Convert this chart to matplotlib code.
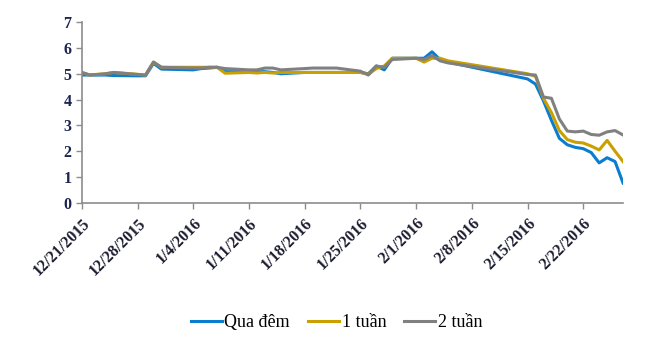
import numpy as np
import pandas as pd
import matplotlib
matplotlib.use("Agg")
import matplotlib.pyplot as plt
import matplotlib.dates as mdates

# dates (gap over Tet holiday)
dates = pd.to_datetime([
    "2015-12-21", "2015-12-22", "2015-12-23", "2015-12-24", "2015-12-25",
    "2015-12-28", "2015-12-29", "2015-12-30", "2015-12-31",
    "2016-01-04", "2016-01-05", "2016-01-06", "2016-01-07", "2016-01-08",
    "2016-01-11", "2016-01-12", "2016-01-13", "2016-01-14", "2016-01-15",
    "2016-01-18", "2016-01-19", "2016-01-20", "2016-01-21", "2016-01-22",
    "2016-01-25", "2016-01-26", "2016-01-27", "2016-01-28", "2016-01-29",
    "2016-02-01", "2016-02-02", "2016-02-03", "2016-02-04", "2016-02-05",
    "2016-02-15", "2016-02-16", "2016-02-17", "2016-02-18", "2016-02-19",
    "2016-02-20", "2016-02-21", "2016-02-22", "2016-02-23", "2016-02-24",
    "2016-02-25", "2016-02-26", "2016-02-27",
])

qua_dem = [4.95, 4.95, 4.95, 4.95, 4.93,
           4.92, 4.92, 5.4, 5.18,
           5.15, 5.2, 5.22, 5.25, 5.08,
           5.08, 5.08, 5.08, 5.05, 5.0,
           5.05, 5.05, 5.05, 5.05, 5.05,
           5.05, 5.0, 5.3, 5.15, 5.6,
           5.6, 5.6, 5.85, 5.55, 5.45,
           4.8, 4.6, 3.95, 3.2, 2.5,
           2.25, 2.15, 2.1, 1.95, 1.55,
           1.75, 1.6, 0.77]

mot_tuan = [5.05, 4.95, 4.98, 5.0, 5.05,
            4.98, 4.95, 5.45, 5.25,
            5.25, 5.25, 5.25, 5.25, 5.02,
            5.05, 5.03, 5.05, 5.03, 5.05,
            5.05, 5.05, 5.05, 5.05, 5.05,
            5.05, 4.98, 5.2, 5.3, 5.6,
            5.6, 5.45, 5.6, 5.6, 5.5,
            5.0, 4.9, 4.05, 3.5, 2.8,
            2.45, 2.35, 2.32, 2.2, 2.05,
            2.42, 2.0, 1.6]

hai_tuan = [5.05, 4.95, 4.97, 5.0, 5.05,
            4.97, 4.95, 5.45, 5.25,
            5.22, 5.22, 5.25, 5.25, 5.2,
            5.15, 5.15, 5.22, 5.22, 5.15,
            5.2, 5.22, 5.22, 5.22, 5.22,
            5.1, 4.95, 5.3, 5.25, 5.55,
            5.6, 5.55, 5.7, 5.5, 5.42,
            4.97, 4.95, 4.1, 4.05, 3.25,
            2.78, 2.75, 2.78, 2.65, 2.62,
            2.75, 2.8, 2.63]

series = ["Qua đêm", "1 tuần", "2 tuần"]
colors = ["#0a7dd0", "#c9a000", "#808080"]

tick_dates = pd.date_range("2015-12-21", "2016-02-22", freq="7D")

fig = plt.figure(figsize=(6.6, 3.56), dpi=100)
ax = fig.add_axes([0.124, 0.430, 0.820, 0.508])

for name, vals, c in zip(series, [qua_dem, mot_tuan, hai_tuan], colors):
    ax.plot(dates, vals, color=c, lw=2.2, label=name, solid_joinstyle="round")

ax.set_ylim(0, 7)
ax.set_yticks(range(0, 8))
ax.set_xlim(pd.Timestamp("2015-12-21"), pd.Timestamp("2016-02-27"))
ax.set_xticks(tick_dates)
ax.xaxis.set_major_formatter(mdates.DateFormatter("%-m/%-d/%Y"))

for s in ["top", "right"]:
    ax.spines[s].set_visible(False)
for s in ["left", "bottom"]:
    ax.spines[s].set_color("#8c8c8c")
    ax.spines[s].set_linewidth(1.2)
ax.tick_params(axis="both", colors="#8c8c8c", length=4, width=1)
ax.tick_params(axis="x", pad=5)
for lab in ax.get_yticklabels():
    lab.set_fontfamily("Liberation Serif")
    lab.set_fontsize(11.5)
    lab.set_fontweight("bold")
    lab.set_color("#1c2450")
for lab in ax.get_xticklabels():
    lab.set_fontfamily("Liberation Serif")
    lab.set_fontsize(11.5)
    lab.set_fontweight("bold")
    lab.set_color("#1c1c30")
    lab.set_rotation(45)
    lab.set_ha("right")
    lab.set_rotation_mode("anchor")

handles, labels = ax.get_legend_handles_labels()
fig.legend(handles, labels, loc="center", bbox_to_anchor=(0.51, 0.093), ncol=3, frameon=False,
           prop={"family": "Liberation Serif", "size": 13},
           handlelength=1.7, handletextpad=0.15, columnspacing=1.0)

fig.savefig("out.png", dpi=100)
